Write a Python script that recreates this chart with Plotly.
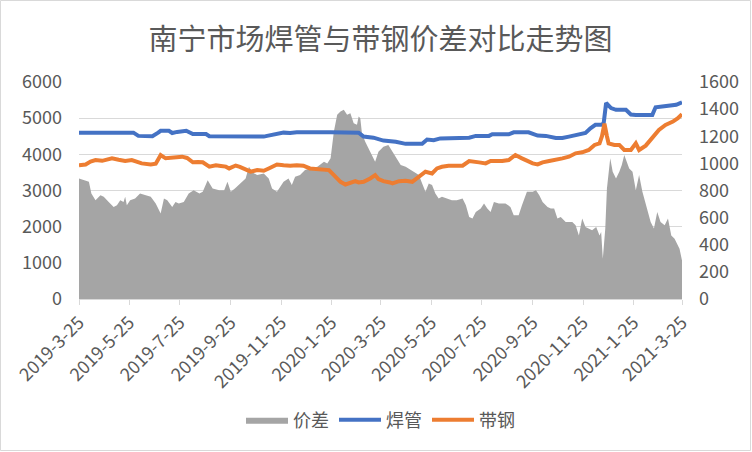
import pandas as pd
import plotly.graph_objects as go

START = "2019-03-25"

# 价差 (right axis) : day offset from 2019-03-25, value
spread_days = [0, 7, 12, 15, 20, 26, 30, 36, 42, 46, 50, 54, 56, 58, 62, 68, 74, 81, 87, 93,
               99, 103, 107, 113, 117, 121, 127, 133, 139, 146, 150, 156, 162, 170, 176, 180, 184, 189, 195, 202,
               206, 211, 216, 224, 230, 234, 240, 248, 254, 258, 262, 268, 274, 280, 289, 297, 301, 305, 309, 313,
               317, 321, 325, 329, 333, 337, 339, 341, 343, 347, 353, 359, 363, 369, 375, 380, 384, 390, 396, 402,
               408, 412, 416, 420, 424, 428, 432, 436, 440, 446, 452, 458, 465, 469, 473, 477, 481, 487, 491, 495,
               499, 503, 509, 517, 523, 527, 533, 537, 543, 550, 554, 558, 562, 568, 572, 576, 580, 584, 590, 598,
               602, 606, 610, 614, 618, 622, 627, 631, 633, 635, 638, 640, 644, 647, 651, 655, 658, 661, 667, 671,
               675, 679, 683, 689, 693, 697, 701, 705, 710, 714, 718, 722, 728, 731]
spread_vals = [889, 876, 864, 778, 728, 765, 753, 716, 679, 691, 728, 716, 753, 691, 728, 741, 778, 765, 753, 704,
               630, 741, 728, 679, 716, 704, 716, 778, 802, 778, 790, 876, 815, 802, 802, 864, 790, 815, 852, 889,
               975, 930, 914, 926, 889, 815, 790, 864, 889, 840, 901, 914, 951, 963, 975, 1012, 1000, 1037, 1235, 1358,
               1383, 1395, 1358, 1370, 1296, 1284, 1346, 1333, 1222, 1160, 1086, 1012, 1086, 1123, 1136, 1086, 1049, 988, 975, 951,
               926, 914, 852, 790, 852, 840, 778, 741, 753, 741, 728, 728, 741, 691, 605, 593, 642, 667, 704, 667,
               642, 716, 704, 704, 679, 617, 617, 691, 790, 790, 802, 765, 716, 679, 667, 667, 593, 605, 568, 568,
               543, 469, 593, 531, 519, 506, 531, 469, 494, 296, 519, 815, 1037, 938, 889, 938, 988, 1062, 963, 938,
               802, 914, 790, 667, 568, 519, 642, 568, 543, 593, 469, 444, 370, 284]

# 焊管 (left axis)
pipe_days = [0, 66, 72, 89, 96, 99, 109, 113, 119, 125, 130, 138, 154, 158, 174, 186, 224, 228, 240, 248,
             256, 264, 305, 339, 345, 357, 369, 384, 396, 416, 422, 430, 438, 473, 481, 497, 501, 521, 527, 545,
             556, 566, 578, 586, 594, 606, 614, 620, 626, 633, 636, 639, 645, 651, 663, 669, 675, 695, 699, 707,
             716, 724, 731]
pipe_vals = [4600, 4600, 4510, 4500, 4600, 4650, 4650, 4590, 4620, 4650, 4650, 4560, 4560, 4500, 4500, 4480, 4490, 4510, 4560, 4600,
             4590, 4610, 4610, 4600, 4490, 4460, 4380, 4350, 4290, 4290, 4410, 4390, 4440, 4460, 4510, 4510, 4555, 4555, 4610, 4610,
             4520, 4510, 4450, 4450, 4490, 4555, 4590, 4720, 4815, 4815, 4850, 5420, 5280, 5230, 5230, 5100, 5090, 5090, 5300, 5320,
             5350, 5370, 5440]

# 带钢 (left axis)
strip_days = [0, 8, 14, 20, 28, 34, 40, 48, 56, 64, 70, 76, 87, 93, 97, 99, 105, 111, 117, 125,
              131, 138, 144, 150, 158, 166, 172, 178, 182, 190, 195, 201, 208, 216, 224, 230, 236, 240, 248, 256,
              264, 272, 280, 289, 297, 303, 309, 317, 323, 329, 335, 339, 345, 353, 359, 363, 369, 377, 380, 388,
              396, 404, 412, 420, 428, 434, 440, 448, 465, 473, 485, 493, 499, 513, 521, 529, 537, 550, 556, 562,
              570, 578, 586, 594, 602, 610, 618, 625, 631, 634, 637, 640, 642, 649, 655, 661, 669, 675, 679, 687,
              695, 703, 711, 716, 720, 726, 731]
strip_vals = [3700, 3720, 3800, 3840, 3820, 3860, 3890, 3850, 3815, 3840, 3800, 3750, 3720, 3740, 3900, 3980, 3890, 3900, 3910, 3935,
              3900, 3780, 3790, 3780, 3660, 3700, 3680, 3660, 3610, 3690, 3655, 3600, 3520, 3565, 3545, 3610, 3690, 3720, 3700, 3685,
              3700, 3685, 3610, 3583, 3565, 3565, 3426, 3240, 3167, 3222, 3260, 3222, 3240, 3333, 3426, 3315, 3260, 3222, 3194, 3259,
              3269, 3240, 3380, 3518, 3472, 3611, 3657, 3685, 3685, 3815, 3778, 3750, 3815, 3815, 3843, 3981, 3889, 3750, 3722, 3778,
              3815, 3843, 3889, 3935, 4028, 4055, 4120, 4259, 4305, 4500, 4850, 4500, 4305, 4259, 4259, 4120, 4120, 4305, 4120, 4240,
              4444, 4676, 4815, 4860, 4907, 5000, 5111]

tick_dates = ["2019-03-25", "2019-05-25", "2019-07-25", "2019-09-25", "2019-11-25", "2020-01-25", "2020-03-25",
              "2020-05-25", "2020-07-25", "2020-09-25", "2020-11-25", "2021-01-25", "2021-03-25"]
tick_text = ["2019-3-25", "2019-5-25", "2019-7-25", "2019-9-25", "2019-11-25", "2020-1-25", "2020-3-25",
             "2020-5-25", "2020-7-25", "2020-9-25", "2020-11-25", "2021-1-25", "2021-3-25"]


def to_dates(days):
    return pd.Timestamp(START) + pd.to_timedelta(days, unit="D")


FONT = "Noto Sans CJK SC"
TXT = "#595959"
GRID = "#D9D9D9"
FS = 18

fig = go.Figure()
fig.add_trace(go.Scatter(x=to_dates(spread_days), y=spread_vals, name="价差", mode="lines",
                         fill="tozeroy", fillcolor="#A5A5A5", line=dict(width=0, color="#A5A5A5"),
                         xaxis="x", yaxis="y"))
fig.add_trace(go.Scatter(x=to_dates(pipe_days), y=pipe_vals, name="焊管", mode="lines",
                         line=dict(width=4, color="#4472C4"), xaxis="x", yaxis="y2"))
fig.add_trace(go.Scatter(x=to_dates(strip_days), y=strip_vals, name="带钢", mode="lines",
                         line=dict(width=4, color="#ED7D31"), xaxis="x", yaxis="y2"))

ML, MR, MT, MB = 79, 70, 82, 153
W, H = 752, 452
pw, ph = W - ML - MR, H - MT - MB

fig.update_layout(
    width=W, height=H,
    margin=dict(l=ML, r=MR, t=MT, b=MB),
    paper_bgcolor="white", plot_bgcolor="white",
    font=dict(family=FONT, size=FS, color=TXT),
    title=dict(text="南宁市场焊管与带钢价差对比走势图", x=0.5, xanchor="center", xref="paper",
               y=(H - 40) / H, yanchor="middle", yref="container",
               font=dict(size=29, color=TXT, family=FONT)),
    showlegend=True,
    legend=dict(orientation="h", x=0.5, xanchor="center", y=-(420 - (H - MB)) / ph, yanchor="middle",
                font=dict(size=FS, color=TXT), bgcolor="rgba(0,0,0,0)", traceorder="normal",
                itemwidth=42),
    xaxis=dict(type="date", range=[to_dates([0])[0], to_dates([731])[0]],
               tickvals=tick_dates, ticktext=tick_text, tickangle=-45,
               ticks="outside", ticklen=5, tickcolor=GRID, showline=True, linecolor=GRID, linewidth=1,
               showgrid=False, zeroline=False, tickfont=dict(size=FS, color=TXT)),
    yaxis=dict(side="right", range=[0, 1600], dtick=200, showgrid=False, zeroline=False,
               showline=False, ticks="", ticklabelstandoff=16, tickfont=dict(size=FS, color=TXT)),
    yaxis2=dict(side="left", overlaying="y", range=[0, 6000], dtick=1000, showgrid=True,
                gridcolor=GRID, gridwidth=1, zeroline=False, showline=False, ticks="",
                ticklabelstandoff=16, tickfont=dict(size=FS, color=TXT)),
    shapes=[dict(type="rect", xref="paper", yref="paper",
                 x0=-(ML - 0.5) / pw, x1=1 + (MR - 1.5) / pw,
                 y0=-(MB - 1.5) / ph, y1=1 + (MT - 0.5) / ph,
                 line=dict(color=GRID, width=1), fillcolor="rgba(0,0,0,0)", layer="below")],
)

fig.write_html("out.html")
